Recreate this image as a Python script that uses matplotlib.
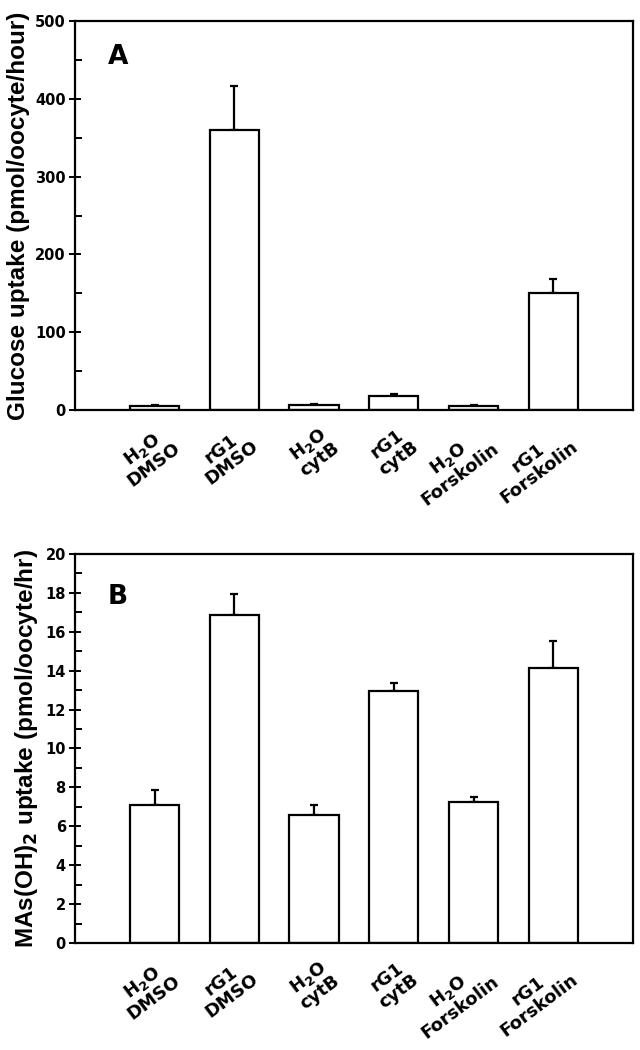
import numpy as np
import matplotlib
matplotlib.use("Agg")
import matplotlib.pyplot as plt
from matplotlib.ticker import MultipleLocator
from matplotlib.transforms import ScaledTranslation

plt.rcParams['font.family'] = ['DejaVu Sans']
plt.rcParams['font.weight'] = 'bold'
plt.rcParams['mathtext.fontset'] = 'custom'
plt.rcParams['mathtext.bf'] = 'DejaVu Sans:bold'
plt.rcParams['mathtext.rm'] = 'DejaVu Sans:bold'
plt.rcParams['mathtext.default'] = 'bf'

# treatment groups
labels = ['H$_2$O\nDMSO', 'rG1\nDMSO', 'H$_2$O\ncytB', 'rG1\ncytB',
          'H$_2$O\nForskolin', 'rG1\nForskolin']

# panel A - glucose uptake
glucose = [5.5, 360, 6, 18, 4.7, 150]
glucose_err = [0.5, 56, 2, 3, 1.7, 18]

# panel B - MAs(OH)2 uptake
mas = [7.1, 16.85, 6.6, 12.95, 7.25, 14.15]
mas_err = [0.75, 1.1, 0.5, 0.42, 0.28, 1.4]

x = np.arange(1, len(labels) + 1)

fig = plt.figure(figsize=(6.4, 10.5), dpi=100)
axA = fig.add_axes([0.117, 0.6095, 0.872, 0.3705])
axB = fig.add_axes([0.117, 0.1019, 0.872, 0.3705])
# labels sit a little right of and below the bar centre
shift = ScaledTranslation(6 / 100, -13 / 100, fig.dpi_scale_trans)


def draw(ax, vals, errs, ymax, major, minor, ylabel, letter, letter_y):
    ax.bar(x, vals, width=0.62, color='white', edgecolor='black', linewidth=1.6, zorder=2)
    ax.errorbar(x, vals, yerr=[np.zeros(len(vals)), errs], fmt='none', ecolor='black',
                elinewidth=1.6, capsize=3, capthick=1.6, zorder=1)
    ax.set_xlim(0, 7)
    ax.set_ylim(0, ymax)
    ax.yaxis.set_major_locator(MultipleLocator(major))
    ax.yaxis.set_minor_locator(MultipleLocator(minor))
    ax.set_xticks(x)
    ax.set_xticklabels([])
    for xi, lab in zip(x, labels):
        ax.text(xi, 0, lab, transform=ax.get_xaxis_transform() + shift,
                rotation=37, rotation_mode='anchor', ha='right', va='top',
                fontsize=13, fontweight='bold', linespacing=1.0,
                multialignment='center')
    ax.tick_params(axis='x', length=0)
    ax.tick_params(axis='y', which='major', direction='inout', length=9, width=1.4,
                   labelsize=10.5, pad=2)
    ax.tick_params(axis='y', which='minor', direction='in', length=5, width=1.4)
    for s in ax.spines.values():
        s.set_linewidth(1.6)
    ax.set_ylabel(ylabel, fontsize=17.5, fontweight='bold', labelpad=4,
                  family='Liberation Sans')
    ax.text(0.41, letter_y, letter, fontsize=19, fontweight='bold', va='center')


draw(axA, glucose, glucose_err, 500, 100, 50,
     'Glucose uptake (pmol/oocyte/hour)', 'A', 454)
draw(axB, mas, mas_err, 20, 2, 1,
     'MAs(OH)$_2$ uptake (pmol/oocyte/hr)', 'B', 17.8)

fig.savefig('out.png', dpi=100)
